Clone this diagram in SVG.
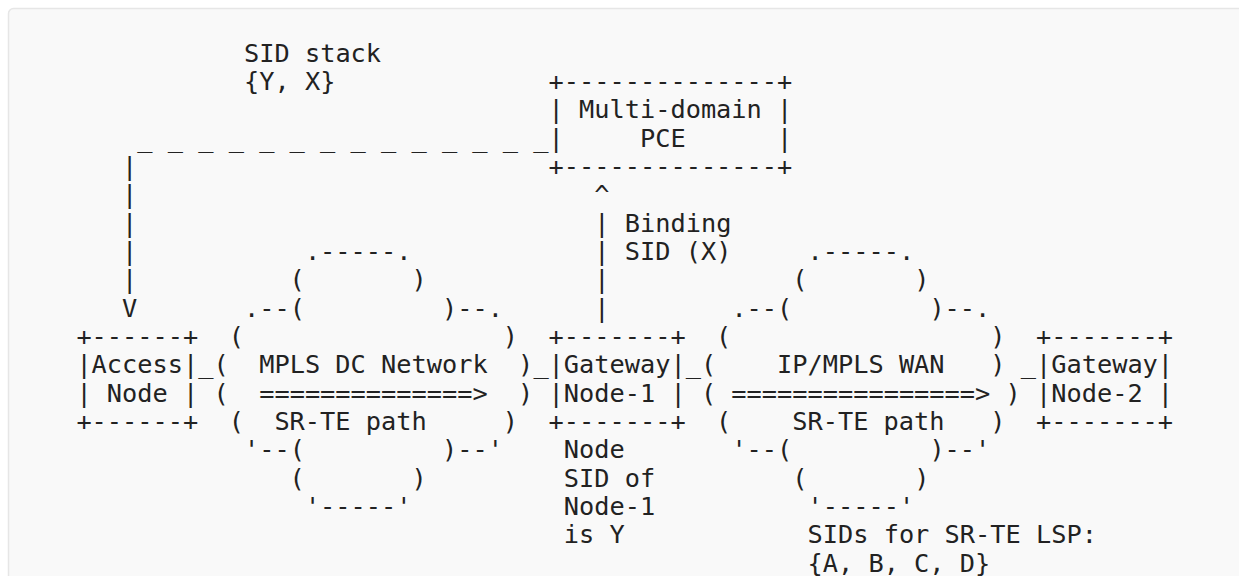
<svg xmlns="http://www.w3.org/2000/svg" width="1239" height="576" viewBox="0 0 1239 576" xml:space="preserve">
<style>
text { font-family: "DejaVu Sans Mono", "Liberation Mono", monospace; font-size: 25.3px; fill: #222; white-space: pre; }
</style>
<rect x="0" y="0" width="1239" height="576" fill="#ffffff"/>
<rect x="8.5" y="8.5" width="1260" height="600" rx="5" fill="#f9f9f9" stroke="#e6e6e6" stroke-width="1.5"/>

<g id="connectors">
  <text x="137.3" y="146.7">_ _ _ _ _ _ _ _ _ _ _ _ _ _</text>
  <text x="122.1" y="175.0">|</text>
  <text x="122.1" y="203.4">|</text>
  <text x="122.1" y="231.7">|</text>
  <text x="122.1" y="260.0">|</text>
  <text x="122.1" y="288.3">|</text>
  <text x="122.1" y="316.7">V</text>
  <text x="594.3" y="203.4">^</text>
  <text x="594.3" y="231.7">|</text>
  <text x="594.3" y="260.0">|</text>
  <text x="594.3" y="288.3">|</text>
  <text x="594.3" y="316.7">|</text>
  <text x="198.3" y="373.3">_</text>
  <text x="533.4" y="373.3">_</text>
  <text x="685.7" y="373.3">_</text>
  <text x="1020.8" y="373.3">_</text>
</g>

<g id="pce">
  <text x="548.6" y="90.0">+--------------+</text>
  <text x="548.6" y="118.4">| Multi-domain |</text>
  <text x="548.6" y="146.7">|     PCE      |</text>
  <text x="548.6" y="175.0">+--------------+</text>
</g>

<g id="access-node">
  <text x="76.4" y="345.0">+------+</text>
  <text x="76.4" y="373.3">|Access|</text>
  <text x="76.4" y="401.7">| Node |</text>
  <text x="76.4" y="430.0">+------+</text>
</g>

<g id="gateway-node-1">
  <text x="548.6" y="345.0">+-------+</text>
  <text x="548.6" y="373.3">|Gateway|</text>
  <text x="548.6" y="401.7">|Node-1 |</text>
  <text x="548.6" y="430.0">+-------+</text>
</g>

<g id="gateway-node-2">
  <text x="1036.0" y="345.0">+-------+</text>
  <text x="1036.0" y="373.3">|Gateway|</text>
  <text x="1036.0" y="401.7">|Node-2 |</text>
  <text x="1036.0" y="430.0">+-------+</text>
</g>

<g id="mpls-dc-network">
  <text x="304.9" y="260.0">.-----.</text>
  <text x="289.6" y="288.3">(       )</text>
  <text x="244.0" y="316.7">.--(         )--.</text>
  <text x="228.7" y="345.0">(                 )</text>
  <text x="213.5" y="373.3">(  MPLS DC Network  )</text>
  <text x="213.5" y="401.7">(  ==============&gt;  )</text>
  <text x="228.7" y="430.0">(  SR-TE path     )</text>
  <text x="244.0" y="458.3">'--(         )--'</text>
  <text x="289.6" y="486.7">(       )</text>
  <text x="304.9" y="515.0">'-----'</text>
</g>

<g id="ip-mpls-wan">
  <text x="807.5" y="260.0">.-----.</text>
  <text x="792.3" y="288.3">(       )</text>
  <text x="731.4" y="316.7">.--(         )--.</text>
  <text x="716.1" y="345.0">(                 )</text>
  <text x="700.9" y="373.3">(    IP/MPLS WAN   )</text>
  <text x="700.9" y="401.7">( ================&gt; )</text>
  <text x="716.1" y="430.0">(    SR-TE path   )</text>
  <text x="731.4" y="458.3">'--(         )--'</text>
  <text x="792.3" y="486.7">(       )</text>
  <text x="807.5" y="515.0">'-----'</text>
</g>

<g id="labels">
  <text x="244.0" y="61.7">SID stack</text>
  <text x="244.0" y="90.0">{Y, X}</text>
  <text x="624.8" y="231.7">Binding</text>
  <text x="624.8" y="260.0">SID (X)</text>
  <text x="563.8" y="458.3">Node</text>
  <text x="563.8" y="486.7">SID of</text>
  <text x="563.8" y="515.0">Node-1</text>
  <text x="563.8" y="543.3">is Y</text>
  <text x="807.5" y="543.3">SIDs for SR-TE LSP:</text>
  <text x="807.5" y="571.6">{A, B, C, D}</text>
</g>
</svg>
